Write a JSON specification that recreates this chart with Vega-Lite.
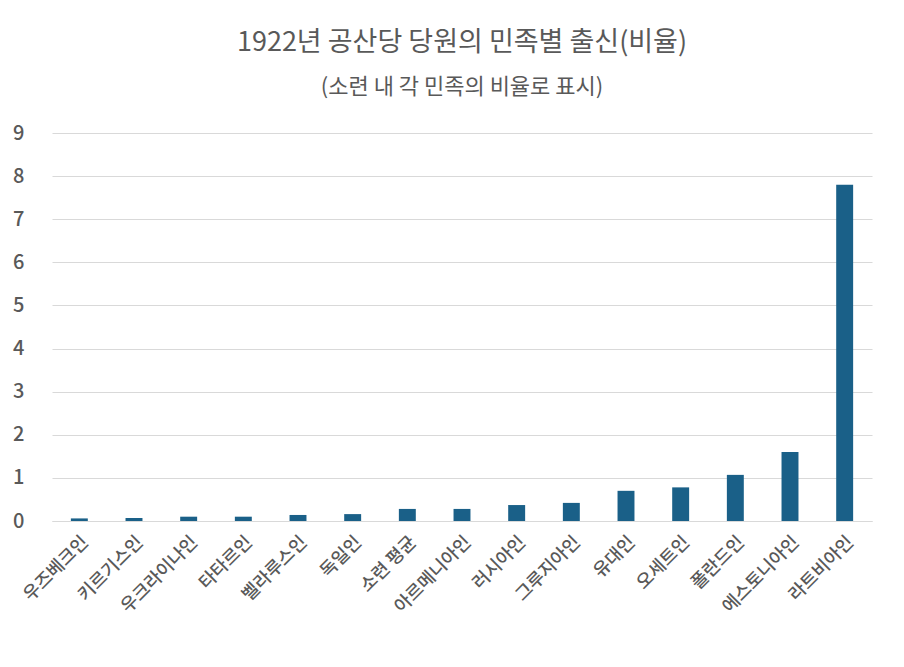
{
  "$schema": "https://vega.github.io/schema/vega-lite/v6.json",
  "width": 820,
  "height": 388,
  "autosize": "none",
  "padding": {"left": 52, "top": 133, "right": 32, "bottom": 146},
  "background": "white",
  "title": {
    "text": "1922년 공산당 당원의 민족별 출신(비율)",
    "subtitle": "(소련 내 각 민족의 비율로 표시)",
    "anchor": "middle",
    "frame": "group",
    "font": "Noto Sans CJK KR",
    "fontSize": 27,
    "fontWeight": "normal",
    "color": "#595959",
    "subtitleFont": "Noto Sans CJK KR",
    "subtitleFontSize": 22,
    "subtitleFontWeight": "normal",
    "subtitleColor": "#595959",
    "subtitlePadding": 20,
    "offset": 24
  },
  "data": {
    "values": [
      {"group": "우즈베크인", "value": 0.06},
      {"group": "키르기스인", "value": 0.07},
      {"group": "우크라이나인", "value": 0.1},
      {"group": "타타르인", "value": 0.1},
      {"group": "벨라루스인", "value": 0.14},
      {"group": "독일인", "value": 0.16},
      {"group": "소련 평균", "value": 0.28},
      {"group": "아르메니아인", "value": 0.28},
      {"group": "러시아인", "value": 0.37},
      {"group": "그루지아인", "value": 0.42},
      {"group": "유대인", "value": 0.7},
      {"group": "오세트인", "value": 0.78},
      {"group": "폴란드인", "value": 1.07},
      {"group": "에스토니아인", "value": 1.6},
      {"group": "라트비아인", "value": 7.8}
    ]
  },
  "mark": {"type": "bar", "color": "#1a6088"},
  "encoding": {
    "x": {
      "field": "group",
      "type": "nominal",
      "sort": null,
      "title": null,
      "scale": {"paddingInner": 0.69, "paddingOuter": 0.345},
      "axis": {
        "labelAngle": -45,
        "labelFont": "Noto Sans CJK KR",
        "labelFontSize": 18,
        "labelFontWeight": 500,
        "labelColor": "#595959",
        "labelPadding": 12,
        "ticks": false,
        "domainColor": "#d9d9d9",
        "domainWidth": 1
      }
    },
    "y": {
      "field": "value",
      "type": "quantitative",
      "title": null,
      "scale": {"domain": [0, 9]},
      "axis": {
        "values": [0, 1, 2, 3, 4, 5, 6, 7, 8, 9],
        "labelFont": "Noto Sans CJK KR",
        "labelFontSize": 20,
        "labelFontWeight": 500,
        "labelColor": "#595959",
        "labelPadding": 28,
        "ticks": false,
        "domain": false,
        "gridColor": "#d9d9d9",
        "gridWidth": 1
      }
    }
  },
  "config": {
    "view": {"stroke": null}
  }
}
